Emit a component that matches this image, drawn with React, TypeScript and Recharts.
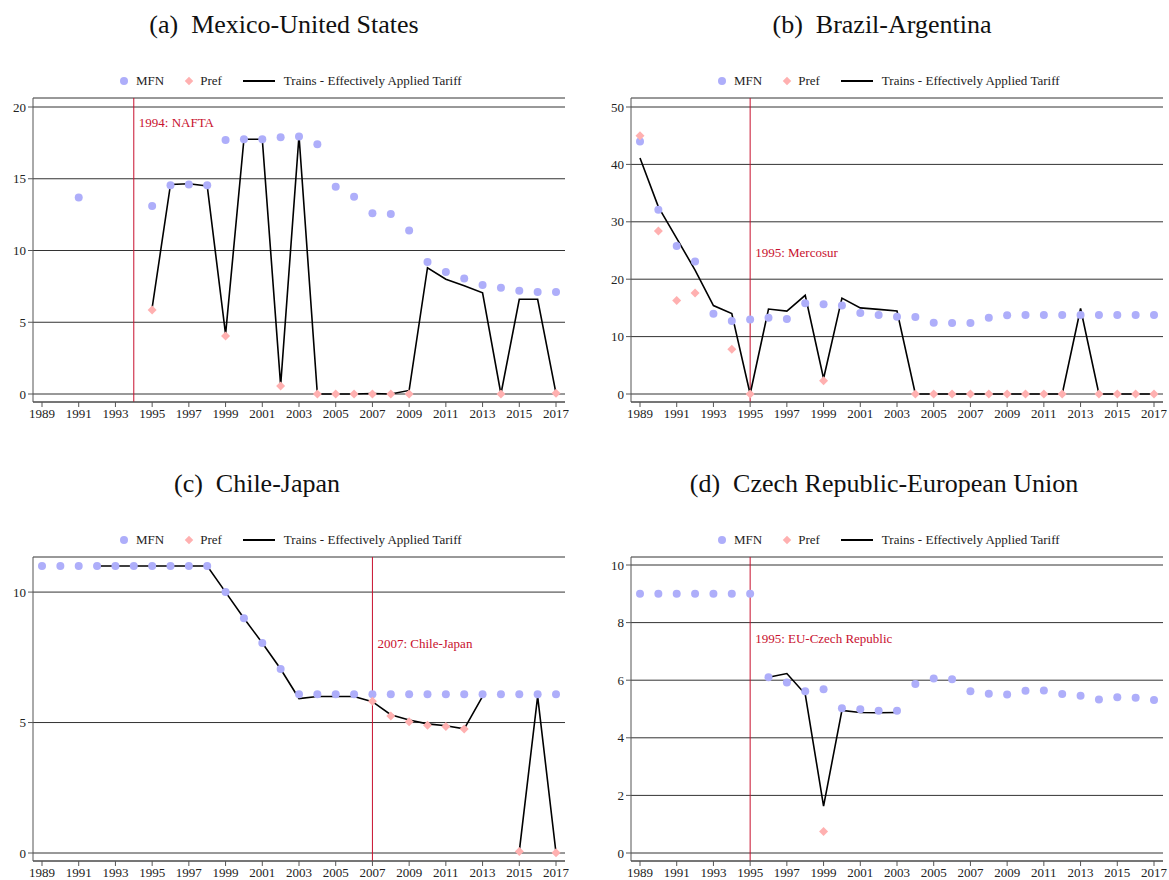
import React from "react";
import {
  ComposedChart,
  Line,
  Scatter,
  XAxis,
  YAxis,
  CartesianGrid,
  ReferenceLine,
} from "recharts";

const YEARS = [
  1989, 1990, 1991, 1992, 1993, 1994, 1995, 1996, 1997, 1998, 1999, 2000, 2001, 2002, 2003,
  2004, 2005, 2006, 2007, 2008, 2009, 2010, 2011, 2012, 2013, 2014, 2015, 2016, 2017,
];
const X_TICKS = [1989, 1991, 1993, 1995, 1997, 1999, 2001, 2003, 2005, 2007, 2009, 2011, 2013, 2015, 2017];

// (a) Mexico-United States
const MX_MFN = [
  null, null, 13.7, null, null, null, 13.1, 14.55, 14.6, 14.55, 17.7, 17.75, 17.75, 17.9, 17.95,
  17.4, 14.45, 13.75, 12.6, 12.55, 11.4, 9.2, 8.5, 8.05, 7.6, 7.4, 7.2, 7.1, 7.1,
];
const MX_PREF = [
  null, null, null, null, null, null, 5.85, null, null, null, 4.05, null, null, 0.55, null,
  0, 0, 0, 0, 0, 0, null, null, null, null, 0, null, null, 0.05,
];
const MX_TRAINS = [
  null, null, null, null, null, null, 6.0, 14.6, 14.65, 14.5, 4.15, 17.75, 17.75, 0.6, 18.0,
  0, 0, 0, 0.03, 0, 0.25, 8.8, 8.0, 7.55, 7.05, 0, 6.6, 6.6, 0.05,
];

// (b) Brazil-Argentina
const BR_MFN = [
  44.0, 32.1, 25.8, 23.1, 14.0, 12.7, 13.0, 13.3, 13.05, 15.8, 15.65, 15.4, 14.1, 13.75, 13.45,
  13.4, 12.4, 12.35, 12.35, 13.3, 13.7, 13.75, 13.75, 13.75, 13.75, 13.75, 13.75, 13.75, 13.75,
];
const BR_PREF = [
  45.0, 28.4, 16.3, 17.6, null, 7.8, 0, null, null, null, 2.3, null, null, null, null,
  0, 0, 0, 0, 0, 0, 0, 0, 0, null, 0, 0, 0, 0,
];
const BR_TRAINS = [
  41.1, 32.6, 27.1, 21.6, 15.4, 14.0, 0, 14.8, 14.45, 17.2, 2.7, 16.7, 15.0, 14.75, 14.45,
  0, 0, 0, 0, 0, 0, 0, 0, 0, 14.9, 0, 0, 0, 0,
];

// (c) Chile-Japan
const CL_MFN = [
  11.0, 11.0, 11.0, 11.0, 11.0, 11.0, 11.0, 11.0, 11.0, 11.0, 10.0, 9.0, 8.05, 7.05, 6.08,
  6.08, 6.08, 6.08, 6.08, 6.08, 6.08, 6.08, 6.08, 6.08, 6.08, 6.08, 6.08, 6.08, 6.08,
];
const CL_PREF = [
  null, null, null, null, null, null, null, null, null, null, null, null, null, null, null,
  null, null, null, 5.82, 5.25, 5.03, 4.9, 4.85, 4.75, null, null, 0.06, null, 0.01,
];
const CL_TRAINS = [
  null, null, null, 11.0, 11.0, 11.0, 11.0, 11.0, 11.0, 11.0, 10.0, 9.0, 8.05, 7.05, 5.92,
  6.0, 6.0, 6.0, 5.8, 5.3, 5.1, 4.95, 4.88, 4.76, 6.0, null, 0.06, 6.0, 0.01,
];

// (d) Czech Republic-European Union
const CZ_MFN = [
  9.0, 9.0, 9.0, 9.0, 9.0, 9.0, 9.0, 6.1, 5.92, 5.62, 5.69, 5.03, 4.99, 4.94, 4.94,
  5.87, 6.06, 6.03, 5.62, 5.53, 5.5, 5.63, 5.64, 5.52, 5.46, 5.33, 5.41, 5.39, 5.31,
];
const CZ_PREF = [
  null, null, null, null, null, null, null, null, null, null, 0.75, null, null, null, null,
  null, null, null, null, null, null, null, null, null, null, null, null, null, null,
];
const CZ_TRAINS = [
  null, null, null, null, null, null, null, 6.1, 6.23, 5.52, 1.63, 4.95, 4.88, 4.87, 4.88,
  null, null, null, null, null, null, null, null, null, null, null, null, null, null,
];

const MFN_COLOR = "#aeaefa";
const PREF_COLOR = "#ffb0b0";
const EVENT_COLOR = "#c8102e";
const SERIF = "'Liberation Serif', 'Times New Roman', Times, 'DejaVu Serif', serif";

const W = 571;
const H = 440;

type Num = number | null;

interface PanelProps {
  title: string;
  titleX: number;
  left: number;
  top: number;
  mfn: Num[];
  pref: Num[];
  trains: Num[];
  yMax: number;
  yTicks: number[];
  padTop: number;
  eventYear: number;
  eventLabel: string;
  labelY: number;
}

const Dot = (p: any) =>
  p.cy == null ? <g /> : <circle cx={p.cx} cy={p.cy} r={4} fill={MFN_COLOR} />;

const Diamond = (p: any) => {
  if (p.cy == null) return <g />;
  const r = 4.5;
  return (
    <polygon
      points={`${p.cx},${p.cy - r} ${p.cx + r},${p.cy} ${p.cx},${p.cy + r} ${p.cx - r},${p.cy}`}
      fill={PREF_COLOR}
    />
  );
};

function Key() {
  return (
    <div
      style={{
        position: "absolute",
        left: 120,
        top: 73,
        height: 16,
        display: "flex",
        alignItems: "center",
        fontFamily: SERIF,
        fontSize: 13,
        color: "#222",
        whiteSpace: "nowrap",
      }}
    >
      <span style={{ width: 8, height: 8, borderRadius: 4, background: MFN_COLOR }} />
      <span style={{ marginLeft: 8 }}>MFN</span>
      <span
        style={{
          marginLeft: 22,
          width: 6,
          height: 6,
          background: PREF_COLOR,
          transform: "rotate(45deg)",
        }}
      />
      <span style={{ marginLeft: 8 }}>Pref</span>
      <span style={{ marginLeft: 21, width: 32, borderTop: "2px solid #000" }} />
      <span style={{ marginLeft: 9 }}>Trains - Effectively Applied Tariff</span>
    </div>
  );
}

function Panel(props: PanelProps) {
  const rows = YEARS.map((year, i) => ({ year, trains: props.trains[i] }));
  const mfnPts = YEARS.map((year, i) => ({ year, v: props.mfn[i] })).filter((d) => d.v != null);
  const prefPts = YEARS.map((year, i) => ({ year, v: props.pref[i] })).filter((d) => d.v != null);
  const tickStyle = { fontFamily: SERIF, fontSize: 13, fill: "#222" };

  return (
    <div style={{ position: "absolute", left: props.left, top: props.top, width: W, height: H }}>
      <div
        style={{
          position: "absolute",
          left: props.titleX,
          top: 10,
          transform: "translateX(-50%)",
          whiteSpace: "nowrap",
          fontFamily: SERIF,
          fontSize: 26,
          color: "#111",
        }}
      >
        {props.title}
      </div>
      <Key />
      <ComposedChart
        width={W}
        height={H}
        data={rows}
        margin={{ top: 98, right: 6, bottom: 8, left: 0 }}
        style={{ fontFamily: SERIF }}
      >
        <CartesianGrid horizontal vertical={false} stroke="#333" />
        <XAxis
          dataKey="year"
          type="number"
          domain={[1989, 2017]}
          ticks={X_TICKS}
          interval={0}
          padding={{ left: 9, right: 9 }}
          height={30}
          tickSize={5}
          tickMargin={2}
          tick={tickStyle}
          stroke="#555"
        />
        <YAxis
          type="number"
          domain={[0, props.yMax]}
          ticks={props.yTicks}
          interval={0}
          padding={{ top: props.padTop, bottom: 8 }}
          width={33}
          tickSize={5}
          tickMargin={2}
          tick={tickStyle}
          stroke="#555"
        />
        <ReferenceLine
          x={props.eventYear}
          stroke={EVENT_COLOR}
          strokeWidth={1}
          label={(p: any) => {
            const vb = p.viewBox || {};
            return (
              <text
                x={(vb.x || 0) + 5}
                y={(vb.y || 0) + props.labelY}
                dy="0.35em"
                fill={EVENT_COLOR}
                style={{ fontFamily: SERIF, fontSize: 13 }}
              >
                {props.eventLabel}
              </text>
            );
          }}
        />
        <Scatter data={mfnPts} dataKey="v" shape={Dot} isAnimationActive={false} />
        <Scatter data={prefPts} dataKey="v" shape={Diamond} isAnimationActive={false} />
        <Line
          dataKey="trains"
          stroke="#000"
          strokeWidth={1.6}
          dot={false}
          activeDot={false}
          connectNulls={false}
          isAnimationActive={false}
        />
      </ComposedChart>
    </div>
  );
}

export default function App() {
  return (
    <div
      style={{
        position: "absolute",
        left: 0,
        top: 0,
        width: 1169,
        height: 880,
        background: "#fff",
        overflow: "hidden",
        fontFamily: SERIF,
      }}
    >
      <Panel
        title={"(a)\u2002Mexico-United States"}
        titleX={284}
        left={0}
        top={0}
        mfn={MX_MFN}
        pref={MX_PREF}
        trains={MX_TRAINS}
        yMax={20}
        yTicks={[0, 5, 10, 15, 20]}
        padTop={9}
        eventYear={1994}
        eventLabel="1994: NAFTA"
        labelY={24}
      />
      <Panel
        title={"(b)\u2002Brazil-Argentina"}
        titleX={284}
        left={598}
        top={0}
        mfn={BR_MFN}
        pref={BR_PREF}
        trains={BR_TRAINS}
        yMax={50}
        yTicks={[0, 10, 20, 30, 40, 50]}
        padTop={9}
        eventYear={1995}
        eventLabel="1995: Mercosur"
        labelY={154}
      />
      <Panel
        title={"(c)\u2002Chile-Japan"}
        titleX={257}
        left={0}
        top={459}
        mfn={CL_MFN}
        pref={CL_PREF}
        trains={CL_TRAINS}
        yMax={11}
        yTicks={[0, 5, 10]}
        padTop={9}
        eventYear={2007}
        eventLabel="2007: Chile-Japan"
        labelY={86}
      />
      <Panel
        title={"(d)\u2002Czech Republic-European Union"}
        titleX={286}
        left={598}
        top={459}
        mfn={CZ_MFN}
        pref={CZ_PREF}
        trains={CZ_TRAINS}
        yMax={10}
        yTicks={[0, 2, 4, 6, 8, 10]}
        padTop={8}
        eventYear={1995}
        eventLabel="1995: EU-Czech Republic"
        labelY={81}
      />
    </div>
  );
}
